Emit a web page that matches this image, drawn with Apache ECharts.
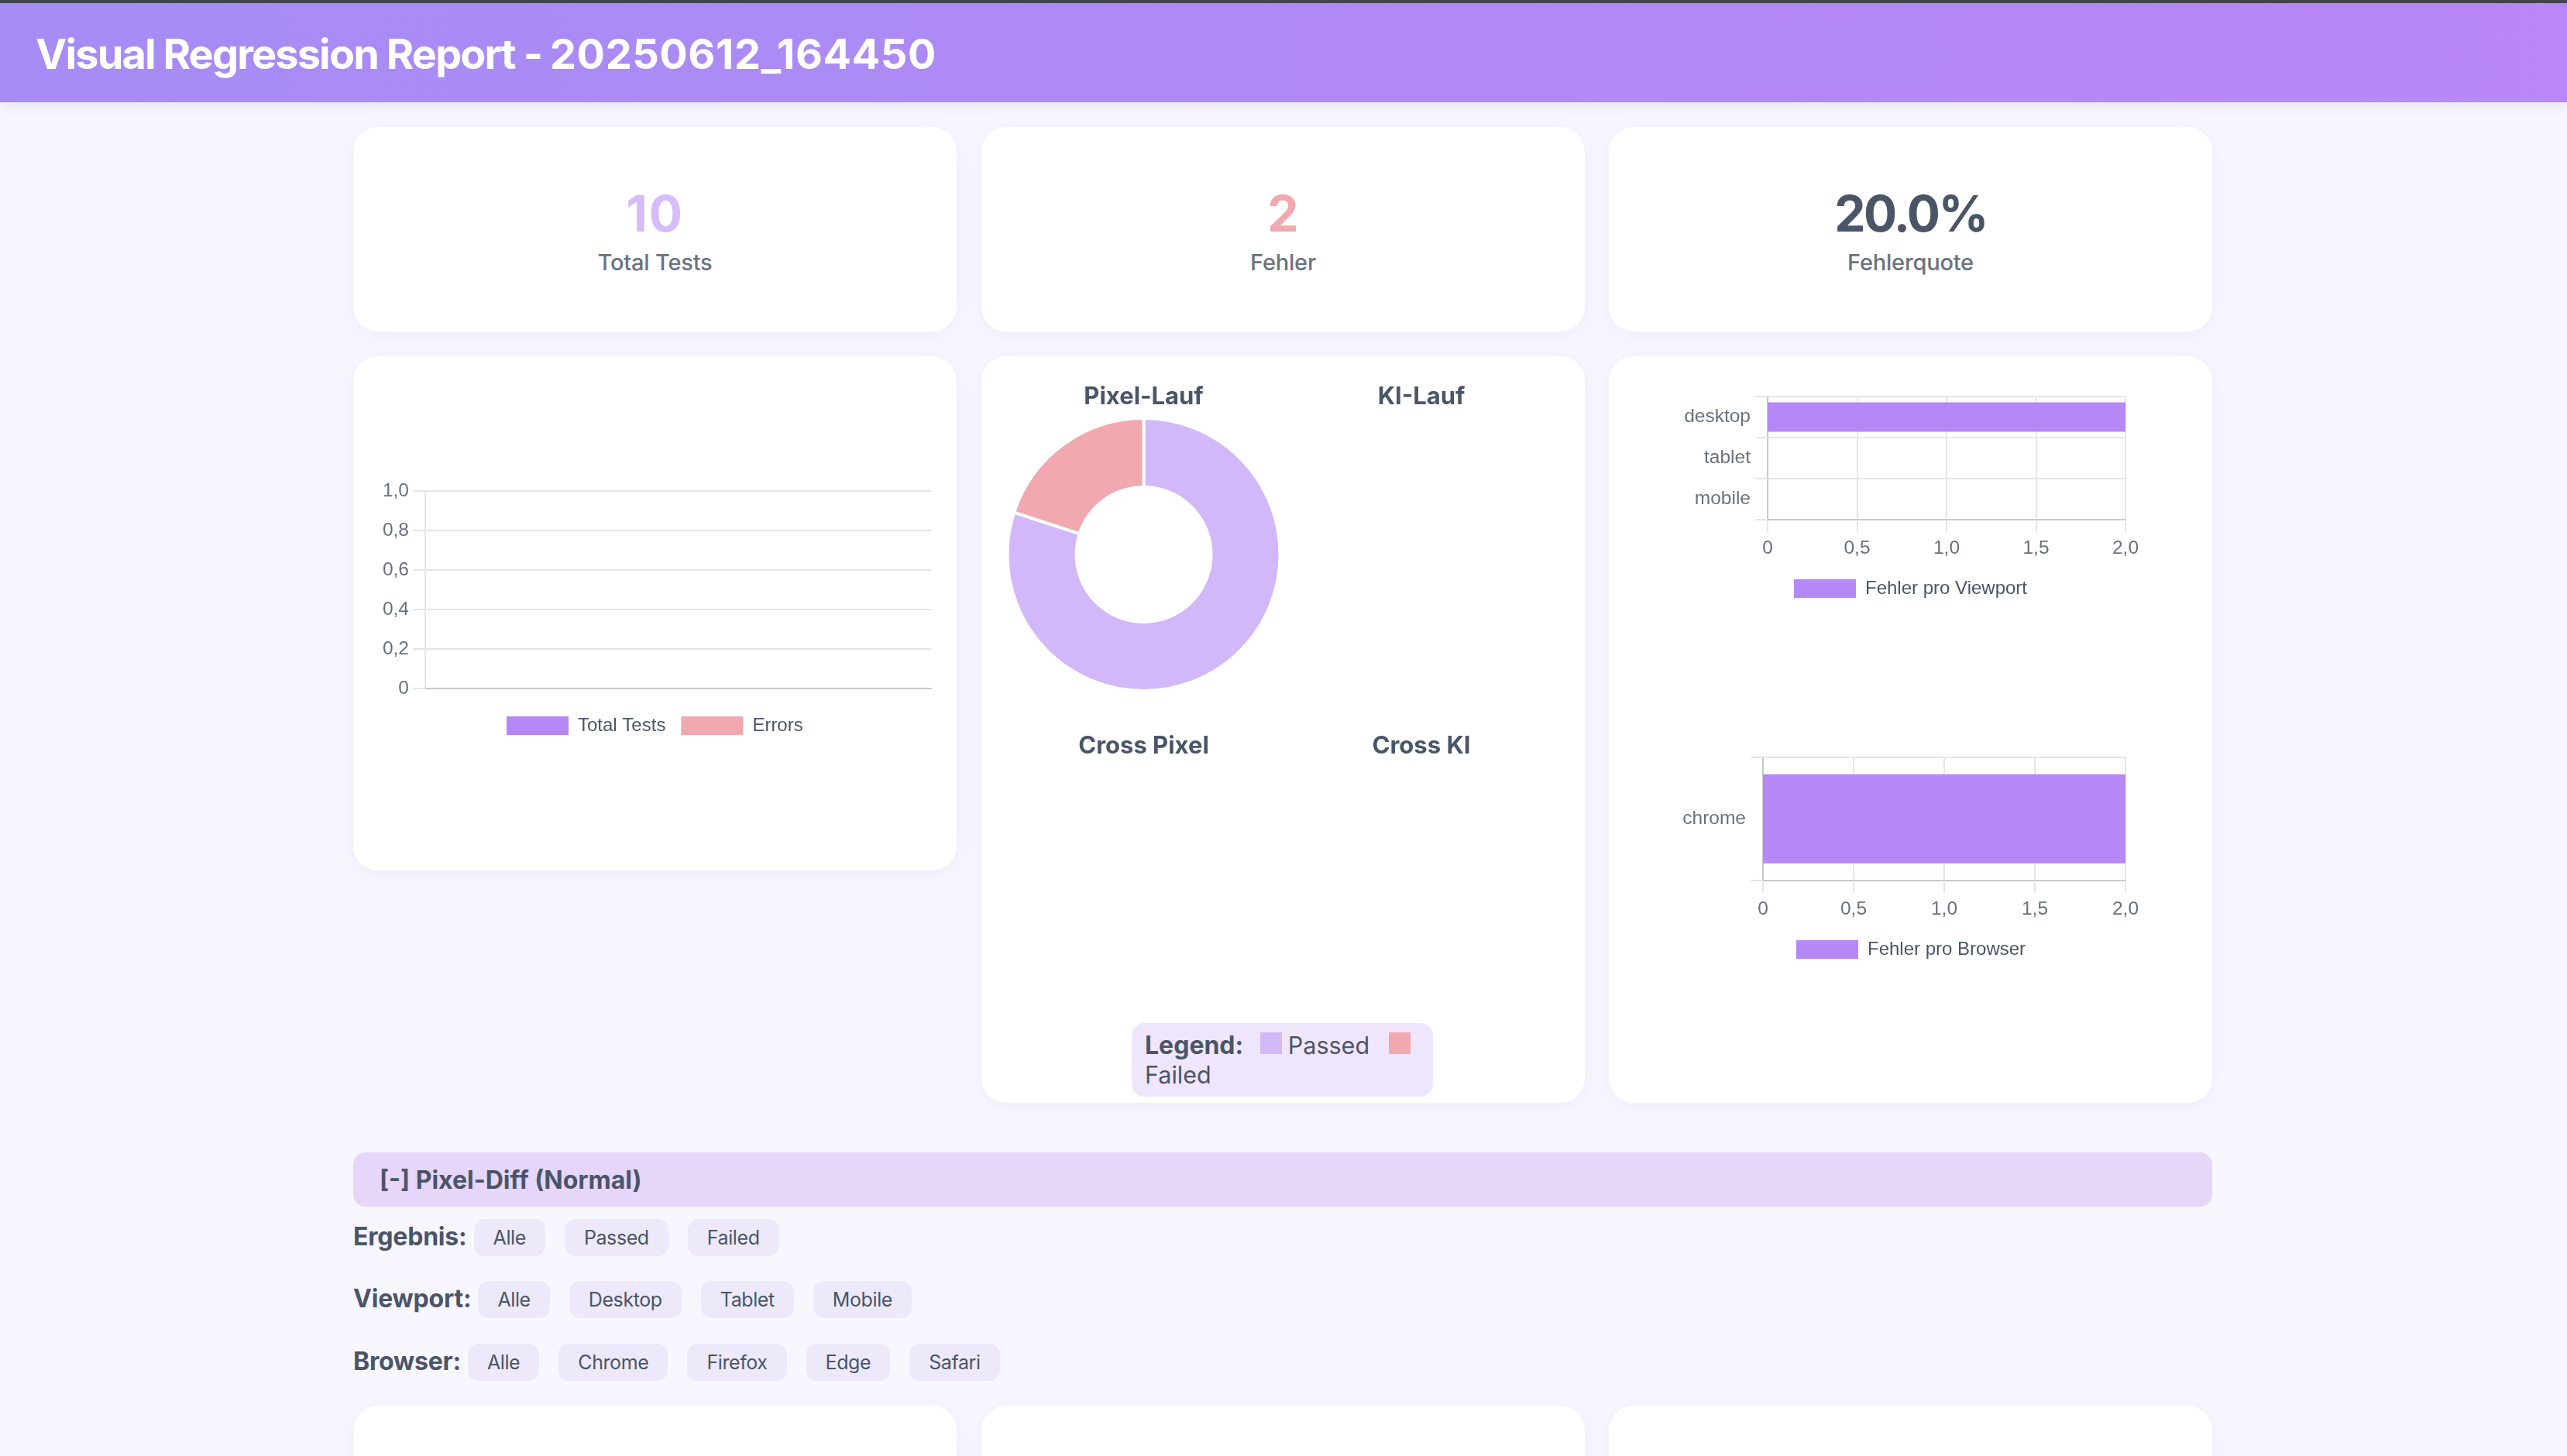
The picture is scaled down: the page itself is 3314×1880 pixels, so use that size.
<!DOCTYPE html>
<html lang="de">
<head>
<meta charset="utf-8">
<title>Visual Regression Report</title>
<script src="https://cdn.jsdelivr.net/npm/echarts@6/dist/echarts.min.js"></script>
<style>
	html, body { margin: 0; padding: 0; width: 3314px; height: 1880px; overflow: hidden; background: #f8f6ff; font-family: Inter, sans-serif; color: #4a5568; }
	.strip { position: absolute; left: 0; top: 0; width: 3314px; height: 4px; background: #43464e; }
	.header { position: absolute; left: 0; top: 4px; width: 3314px; height: 128px; background: linear-gradient(90deg, #a68cf5, #b987f6); box-shadow: 0 4px 16px rgba(80,60,140,0.10); }
	.header h1 { position: absolute; left: 46px; top: 0; margin: 0; line-height: 132px; font-size: 54px; font-weight: 700; letter-spacing: -1.85px; color: #fff; white-space: nowrap; }
	.header h1 span { letter-spacing: 0.6px; }
	.card { position: absolute; background: #fff; border-radius: 32px; box-shadow: 0 4px 24px rgba(120,100,180,0.07); }
	.stat { text-align: center; }
	.stat .num { position: absolute; left: 0; right: 0; top: 72px; line-height: 80px; font-size: 64px; font-weight: 700; }
	.stat .lbl { position: absolute; left: 0; right: 0; top: 150px; line-height: 50px; font-size: 29px; font-weight: 500; letter-spacing: -0.2px; color: #6b7280; }
	.chart { position: absolute; left: 0; top: 0; width: 100%; height: 100%; }
	.legendbox { position: absolute; left: 194px; top: 861px; width: 389px; height: 95px; box-sizing: border-box; padding: 10px 17px; background: #f0e6fc; border-radius: 16px; font-size: 30.5px; line-height: 38px; white-space: nowrap; }
	.legendbox b { font-size: 32px; font-weight: 700; margin-right: 13px; }
	.legendbox i { display: inline-block; width: 28px; height: 28px; margin-right: 8px; }
	.section { position: absolute; left: 456px; top: 1488px; width: 2400px; height: 70px; background: #e6d6fa; border-radius: 16px; line-height: 71px; font-size: 32px; font-weight: 700; text-indent: 34px; }
	.filter { position: absolute; left: 456px; height: 48px; display: flex; align-items: center; white-space: nowrap; }
	.filter b { position: relative; top: -2px; font-size: 32px; font-weight: 700; letter-spacing: -0.2px; margin-right: 9px; }
	.filter span { height: 48px; line-height: 48px; padding: 0 25px; margin-right: 25px; background: #ede9fb; border-radius: 14px; font-size: 25px; letter-spacing: -0.4px; }
</style>
</head>
<body>
<div class="strip"></div>
<div class="header"><h1>Visual Regression Report - <span>20250612_164450</span></h1></div>

<div class="card stat" style="left:456px;top:164px;width:779px;height:264px"><div class="num" style="color:#d6bcfa;letter-spacing:2px">10</div><div class="lbl">Total Tests</div></div>
<div class="card stat" style="left:1267px;top:164px;width:779px;height:264px"><div class="num" style="color:#f1a8af">2</div><div class="lbl">Fehler</div></div>
<div class="card stat" style="left:2077px;top:164px;width:779px;height:264px"><div class="num" style="color:#4a5568;letter-spacing:-2.5px">20.0%</div><div class="lbl">Fehlerquote</div></div>

<div class="card" style="left:456px;top:460px;width:779px;height:664px"><div class="chart" id="trendChart"></div></div>
<div class="card" style="left:1267px;top:460px;width:779px;height:964px">
	<div class="chart" id="pieChart"></div>
	<div class="legendbox"><b>Legend:</b> <i style="background:#d2b7f9"></i>Passed <i style="background:#f1a8af;margin-left:16px"></i><br>Failed</div>
</div>
<div class="card" style="left:2077px;top:460px;width:779px;height:964px"><div class="chart" id="barChart"></div></div>

<div class="section">[-] Pixel-Diff (Normal)</div>
<div class="filter" id="filter0" style="top:1574px"></div>
<div class="filter" id="filter1" style="top:1654px"></div>
<div class="filter" id="filter2" style="top:1735px"></div>

<div class="card" style="left:456px;top:1815px;width:779px;height:200px"></div>
<div class="card" style="left:1267px;top:1815px;width:779px;height:200px"></div>
<div class="card" style="left:2077px;top:1815px;width:779px;height:200px"></div>

<script>
	var trendCategories = [];
	var trendTotal = [];
	var trendErrors = [];
	var pieNames = ['Passed', 'Failed'];
	var pixelRun = [8, 2];
	var kiRun = [0, 0];
	var crossPixel = [0, 0];
	var crossKi = [0, 0];
	var viewportNames = ['desktop', 'tablet', 'mobile'];
	var viewportErrors = [2, 0, 0];
	var browserNames = ['chrome'];
	var browserErrors = [2];
	var filterLabels = ['Ergebnis:', 'Viewport:', 'Browser:'];
	var filterValues = [
		['Alle', 'Passed', 'Failed'],
		['Alle', 'Desktop', 'Tablet', 'Mobile'],
		['Alle', 'Chrome', 'Firefox', 'Edge', 'Safari']
	];

	var PURPLE = '#b588f5', PINK = '#f1a8af', LILAC = '#d2b7f9';
	var GRID = '#e5e5ea', BASE = '#c9c9cc', TICK_TEXT = '#6b7080', LEGEND_TEXT = '#4a5568';
	var CHART_FONT = '"Liberation Sans", Arial, sans-serif';

	function comma(v) {
		return v === 0 ? '0' : v.toFixed(1).replace('.', ',');
	}

	function line(color) {
		return { lineStyle: { color: color, width: 2 } };
	}

	function legendOf(names, left, top) {
		return {
			data: names, left: left, top: top, padding: 0, icon: 'rect', itemWidth: 80, itemHeight: 24, itemGap: 20,
			textStyle: { fontFamily: CHART_FONT, fontSize: 24, color: LEGEND_TEXT, padding: [0, 0, 0, 7] }
		};
	}

	// filter pills
	filterLabels.forEach(function(label, i) {
		var row = document.getElementById('filter' + i);
		row.innerHTML = '<b>' + label + '</b>' + filterValues[i].map(function(v) {
			return '<span>' + v + '</span>';
		}).join('');
	});

	// left card, no data in this run
	var trendChart = echarts.init(document.getElementById('trendChart'));
	trendChart.setOption({
		animation: false,
		legend: legendOf(['Total Tests', 'Errors'], 198, 465),
		grid: { left: 93, top: 174, width: 653, height: 255 },
		xAxis: {
			type: 'category', data: trendCategories,
			axisLine: line(BASE), axisTick: { show: false }, axisLabel: { show: false }, splitLine: { show: false }
		},
		yAxis: {
			type: 'value', min: 0, max: 1, interval: 0.2,
			axisLine: Object.assign({ show: true }, line(GRID)),
			axisTick: Object.assign({ show: true, length: 16 }, line(GRID)),
			splitLine: Object.assign({ show: true }, line(GRID)),
			axisLabel: { margin: 21, padding: [2, 0, 0, 0], fontFamily: CHART_FONT, fontSize: 24.5, color: TICK_TEXT, formatter: comma }
		},
		series: [
			{ name: 'Total Tests', type: 'bar', data: trendTotal, itemStyle: { color: PURPLE } },
			{ name: 'Errors', type: 'bar', data: trendErrors, itemStyle: { color: PINK } }
		]
	});

	// donuts
	var pieRuns = [
		{ title: 'Pixel-Lauf', values: pixelRun, x: 209.5, y: 256, titleY: 53 },
		{ title: 'KI-Lauf', values: kiRun, x: 568, y: 256, titleY: 53 },
		{ title: 'Cross Pixel', values: crossPixel, x: 209.5, y: 705, titleY: 503.5 },
		{ title: 'Cross KI', values: crossKi, x: 568, y: 705, titleY: 503.5 }
	];
	var pieChart = echarts.init(document.getElementById('pieChart'));
	pieChart.setOption({
		animation: false,
		title: pieRuns.map(function(r) {
			return {
				text: r.title, left: r.x, top: r.titleY, padding: 0, textAlign: 'center', textVerticalAlign: 'middle',
				textStyle: { fontFamily: 'Inter', fontSize: 31, fontWeight: 700, color: LEGEND_TEXT }
			};
		}),
		series: pieRuns.map(function(r) {
			return {
				type: 'pie', center: [r.x, r.y], radius: [87, 176], startAngle: 90,
				stillShowZeroSum: false, showEmptyCircle: false, label: { show: false },
				itemStyle: { borderColor: '#fff', borderWidth: 4 },
				data: r.values.map(function(v, i) {
					return { name: pieNames[i], value: v, itemStyle: { color: i === 0 ? LILAC : PINK } };
				})
			};
		})
	});

	// right card, two horizontal bars
	function valueAxis(gridIndex) {
		return {
			type: 'value', gridIndex: gridIndex, position: 'bottom', min: 0, max: 2, interval: 0.5,
			axisLine: Object.assign({ show: true }, line(BASE)),
			axisTick: Object.assign({ show: true, length: 16 }, line(GRID)),
			splitLine: Object.assign({ show: true }, line(GRID)),
			axisLabel: { margin: 25, fontFamily: CHART_FONT, fontSize: 24.5, color: TICK_TEXT, formatter: comma, hideOverlap: false }
		};
	}
	function categoryAxis(gridIndex, names) {
		return {
			type: 'category', gridIndex: gridIndex, data: names, inverse: true,
			axisLine: Object.assign({ show: true }, line(BASE)),
			axisTick: Object.assign({ show: true, length: 16 }, line(GRID)),
			splitLine: Object.assign({ show: true }, line(GRID)),
			axisLabel: { margin: 22, padding: [2, 0, 0, 0], fontFamily: CHART_FONT, fontSize: 24.5, color: TICK_TEXT }
		};
	}
	var barChart = echarts.init(document.getElementById('barChart'));
	barChart.setOption({
		animation: false,
		legend: [
			legendOf(['Fehler pro Viewport'], 239, 288),
			legendOf(['Fehler pro Browser'], 242, 754)
		],
		grid: [
			{ left: 205, top: 52, width: 462, height: 159 },
			{ left: 199, top: 517.5, width: 468, height: 159.5 }
		],
		xAxis: [valueAxis(0), valueAxis(1)],
		yAxis: [categoryAxis(0, viewportNames), categoryAxis(1, browserNames)],
		series: [
			{ name: 'Fehler pro Viewport', type: 'bar', xAxisIndex: 0, yAxisIndex: 0, barWidth: '72%', data: viewportErrors, itemStyle: { color: PURPLE } },
			{ name: 'Fehler pro Browser', type: 'bar', xAxisIndex: 1, yAxisIndex: 1, barWidth: '72%', data: browserErrors, itemStyle: { color: PURPLE } }
		]
	});
</script>
</body>
</html>
